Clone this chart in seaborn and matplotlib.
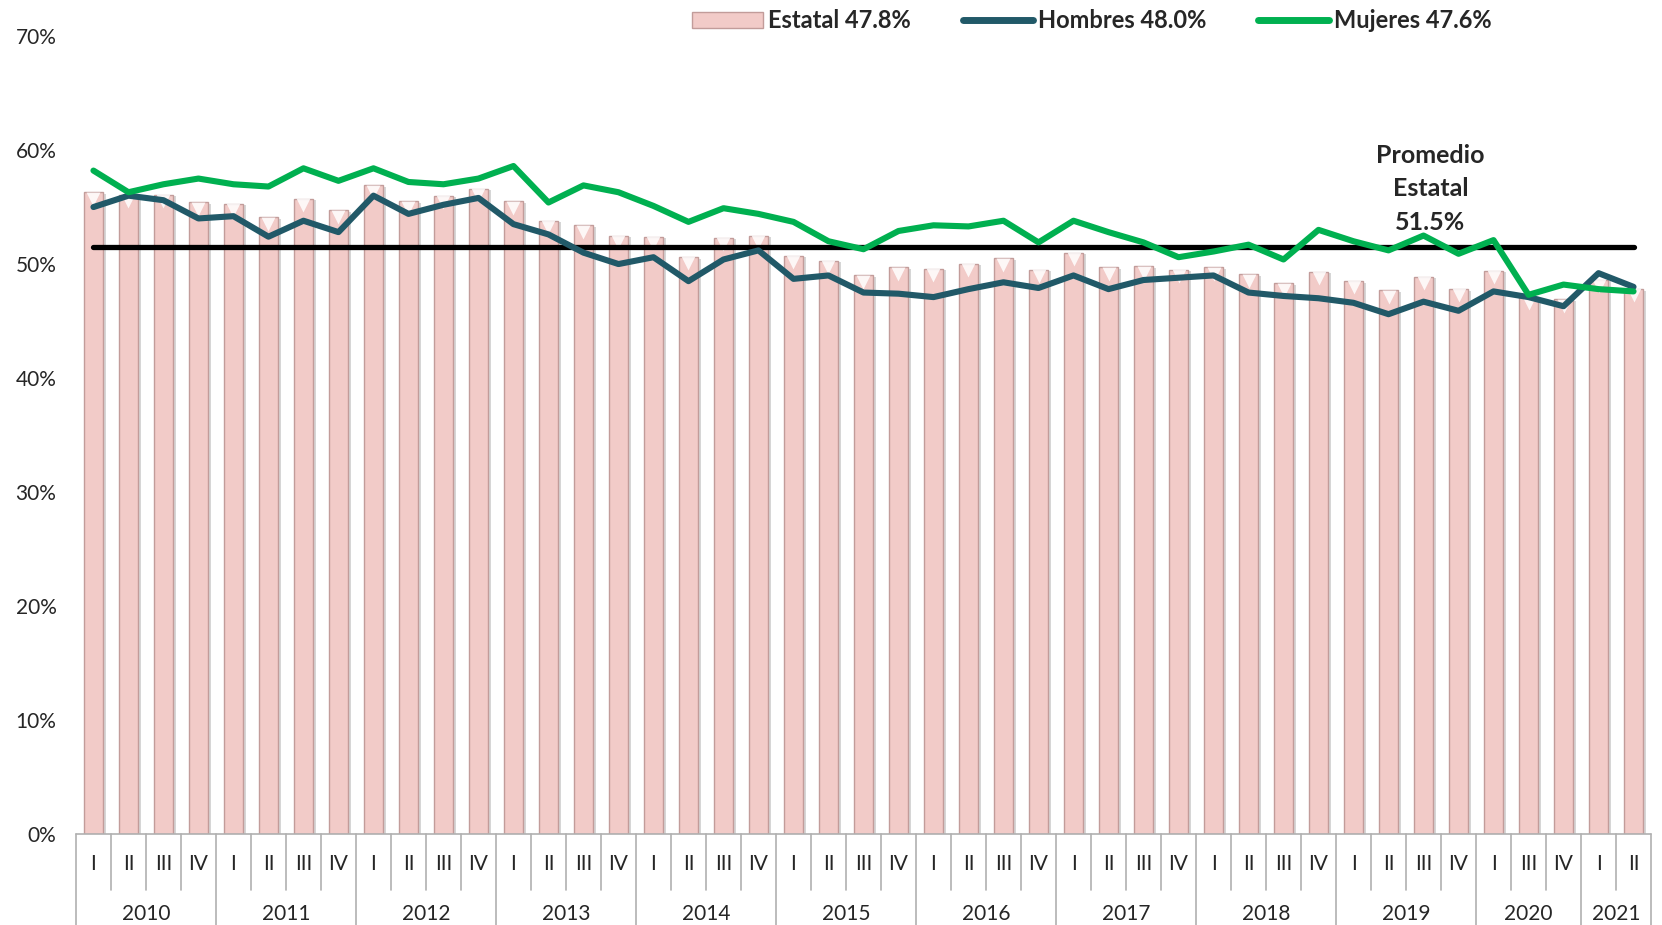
import numpy as np
import pandas as pd
import matplotlib
matplotlib.use("Agg")
import matplotlib.pyplot as plt
import matplotlib.patheffects as pe
from matplotlib.patches import Patch
from matplotlib.lines import Line2D
import seaborn as sns

# data
years = ["2010", "2011", "2012", "2013", "2014", "2015", "2016",
         "2017", "2018", "2019", "2020", "2021"]
quarters = [["I", "II", "III", "IV"]] * 10 + [["I", "III", "IV"], ["I", "II"]]

estatal = [56.3, 56.1, 56.1, 55.4,
           55.3, 54.1, 55.7, 54.7,
           56.9, 55.5, 56.0, 56.6,
           55.5, 53.8, 53.4, 52.5,
           52.4, 50.6, 52.3, 52.5,
           50.7, 50.3, 49.0, 49.7,
           49.6, 50.0, 50.5, 49.5,
           51.0, 49.7, 49.8, 49.5,
           49.7, 49.1, 48.3, 49.3,
           48.5, 47.7, 48.9, 47.8,
           49.4, 47.1, 46.9,
           48.6, 47.8]

hombres = [55.0, 56.0, 55.6, 54.0,
           54.2, 52.4, 53.8, 52.8,
           56.0, 54.4, 55.2, 55.8,
           53.5, 52.6, 51.0, 50.0,
           50.6, 48.5, 50.4, 51.2,
           48.7, 49.0, 47.5, 47.4,
           47.1, 47.8, 48.4, 47.9,
           49.0, 47.8, 48.6, 48.8,
           49.0, 47.5, 47.2, 47.0,
           46.6, 45.6, 46.7, 45.9,
           47.6, 47.1, 46.3,
           49.2, 48.0]

mujeres = [58.2, 56.3, 57.0, 57.5,
           57.0, 56.8, 58.4, 57.3,
           58.4, 57.2, 57.0, 57.5,
           58.6, 55.4, 56.9, 56.3,
           55.1, 53.7, 54.9, 54.4,
           53.7, 52.0, 51.3, 52.9,
           53.4, 53.3, 53.8, 51.9,
           53.8, 52.8, 51.9, 50.6,
           51.1, 51.7, 50.4, 53.0,
           52.0, 51.2, 52.5, 50.9,
           52.1, 47.3, 48.2,
           47.8, 47.6]

promedio = 51.5
legend_labels = ["Estatal 47.8%", "Hombres 48.0%", "Mujeres 47.6%"]

# build long table
cats = [f"{y}-{q}" for y, qs in zip(years, quarters) for q in qs]
idx = np.arange(len(cats))
df = pd.DataFrame({"cat": cats, "idx": idx, "estatal": estatal,
                   "hombres": hombres, "mujeres": mujeres})

sns.set_style("white")
plt.rcParams["font.family"] = ["Lato", "DejaVu Sans"]

fig = plt.figure(figsize=(16.62, 9.25), dpi=100)
ax = fig.add_axes([0.0457, 0.0984, 0.9477, 0.8626])

bar_col = "#f2cbc8"
edge_col = "#c29c9a"
sns.barplot(data=df, x="cat", y="estatal", order=cats, color=bar_col,
            width=0.56, edgecolor=edge_col, linewidth=1.0, saturation=1,
            ax=ax, zorder=2)
for p in ax.patches:
    p.set_path_effects([pe.SimplePatchShadow(offset=(2, -1), shadow_rgbFace="#9a9a9a", alpha=0.4),
                        pe.Normal()])

# little white bevel triangles at bar tops
ax.scatter(df["idx"], df["estatal"] - 0.55, marker="v", s=100, color="white",
           alpha=0.85, zorder=3, linewidths=0)

ax.plot([idx[0], idx[-1]], [promedio, promedio], color="black", lw=3.8,
        solid_capstyle="round", zorder=4)
sns.lineplot(data=df, x="idx", y="hombres", color="#215968", lw=4.4, ax=ax,
             zorder=5, solid_capstyle="round")
sns.lineplot(data=df, x="idx", y="mujeres", color="#00b050", lw=4.4, ax=ax,
             zorder=6, solid_capstyle="round")

ax.text(38.2, 56.6, f"Promedio\nEstatal\n{promedio}%", ha="center", va="center",
        fontsize=18, fontweight="bold", linespacing=1.55, zorder=7)

ax.set_xlim(-0.5, len(cats) - 0.5)
ax.set_ylim(0, 70)
ax.set_yticks(range(0, 71, 10))
ax.set_yticklabels([f"{v}%" for v in range(0, 71, 10)], fontsize=15)
ax.tick_params(axis="y", length=0, pad=14)
ax.set_xticks([])
ax.set_xlabel("")
ax.set_ylabel("")
for s in ax.spines.values():
    s.set_visible(False)

# category table below the axis
tr = ax.get_xaxis_transform()
grid_col = "#b0b0b0"
ax.plot([-0.5, len(cats) - 0.5], [0, 0], color=grid_col, lw=1.2, transform=tr, clip_on=False)
pos = 0
for y, qs in zip(years, quarters):
    start = pos
    for j, q in enumerate(qs):
        ax.text(pos, -0.038, q, transform=tr, ha="center", va="center", fontsize=15)
        if j > 0:
            ax.plot([pos - 0.5, pos - 0.5], [0, -0.07], color=grid_col, lw=1.2,
                    transform=tr, clip_on=False)
        pos += 1
    ax.plot([start - 0.5, start - 0.5], [0, -0.115], color=grid_col, lw=1.2,
            transform=tr, clip_on=False)
    ax.text((start + pos - 1) / 2, -0.1, y, transform=tr, ha="center",
            va="center", fontsize=15)
ax.plot([pos - 0.5, pos - 0.5], [0, -0.115], color=grid_col, lw=1.2,
        transform=tr, clip_on=False)

handles = [Patch(facecolor=bar_col, edgecolor=edge_col),
           Line2D([], [], color="#215968", lw=5, solid_capstyle="round"),
           Line2D([], [], color="#00b050", lw=5)]
leg = fig.legend(handles, legend_labels, loc="upper center", ncol=3,
                 bbox_to_anchor=(0.657, 1.013), frameon=False, handlelength=3.0,
                 handletextpad=0.2, columnspacing=2.2,
                 prop={"weight": "bold", "size": 17})

fig.savefig("out.png", dpi=100)
